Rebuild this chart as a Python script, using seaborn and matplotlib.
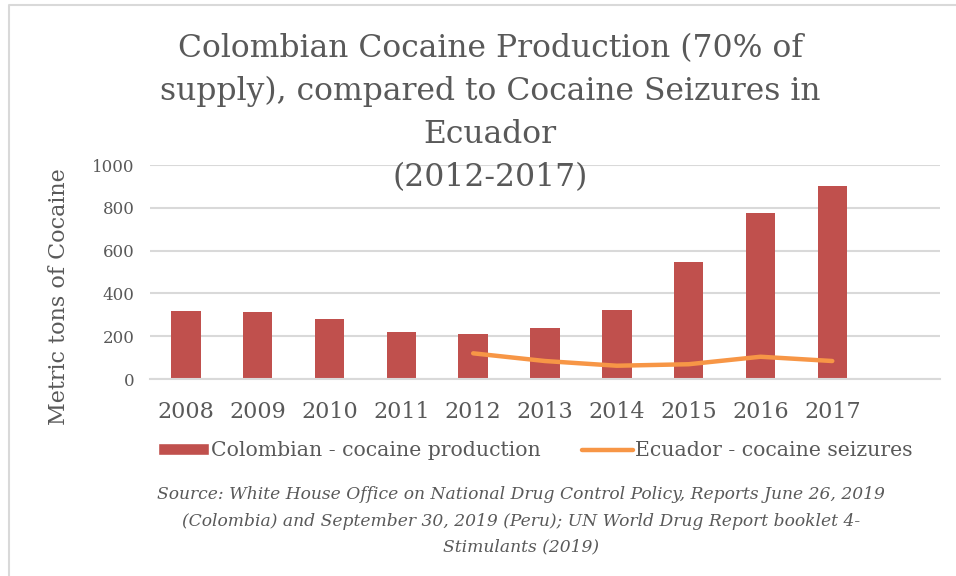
import numpy as np
import pandas as pd
import matplotlib
matplotlib.use('Agg')
import matplotlib.pyplot as plt
import seaborn as sns
from matplotlib.patches import Patch
from matplotlib.lines import Line2D

# data
years = [2008, 2009, 2010, 2011, 2012, 2013, 2014, 2015, 2016, 2017]
colombia_production = [318, 314, 279, 220, 210, 238, 322, 547, 776, 902]
seizure_years = [2012, 2013, 2014, 2015, 2016, 2017]
ecuador_seizures = [120, 84, 62, 69, 104, 84]

bar_color = '#C0504D'
line_color = '#F79646'
text_gray = '#595959'
grid_gray = '#D9D9D9'

sns.set_style('white')
plt.rcParams['font.family'] = ['DejaVu Serif']

prod = pd.DataFrame({'year': [str(y) for y in years], 'tons': colombia_production})
seiz = pd.DataFrame({'pos': [years.index(y) for y in seizure_years], 'tons': ecuador_seizures})

fig = plt.figure(figsize=(9.56, 5.76), dpi=100)
W, H = 956, 576
ax = fig.add_axes([150 / W, 1 - 379 / H, (940 - 150) / W, (379 - 165) / H])

sns.barplot(data=prod, x='year', y='tons', color=bar_color, width=0.41,
            saturation=1, linewidth=0, ax=ax, zorder=2)
sns.lineplot(data=seiz, x='pos', y='tons', color=line_color, lw=3.2,
             solid_capstyle='round', ax=ax, zorder=3)

ax.set_xlim(-0.5, 10.5)
ax.set_ylim(0, 1000)
ax.set_yticks(range(0, 1001, 200))
ax.grid(axis='y', color=grid_gray, lw=1.5, zorder=0)
ax.set_axisbelow(True)
for s in ['top', 'right', 'left']:
    ax.spines[s].set_visible(False)
ax.spines['bottom'].set_color(grid_gray)
ax.spines['bottom'].set_linewidth(1.5)
ax.tick_params(axis='both', length=0, colors=text_gray)
ax.tick_params(axis='x', labelsize=16, pad=16)
ax.tick_params(axis='y', labelsize=12, pad=11)
ax.set_xlabel('')
ax.set_ylabel('Metric tons of Cocaine', fontsize=16, color=text_gray)
ax.yaxis.set_label_coords(-0.101, 0.383)

fig.text(490 / W, 1 - 33 / H,
         'Colombian Cocaine Production (70% of\nsupply), compared to Cocaine Seizures in\nEcuador\n(2012-2017)',
         ha='center', va='top', fontsize=22.6, color=text_gray, linespacing=1.5)

handles = [Patch(facecolor=bar_color, label='Colombian - cocaine production'),
           Line2D([], [], color=line_color, lw=3.2, solid_capstyle='round',
                  label='Ecuador - cocaine seizures')]
fig.legend(handles=handles, loc='center', bbox_to_anchor=(535 / W, 1 - 451 / H),
           ncol=2, frameon=False, fontsize=14.7, labelcolor=text_gray,
           handlelength=2.5, handleheight=0.5, handletextpad=0.1, columnspacing=2.0)

fig.text(521 / W, 1 - 521 / H,
         'Source: White House Office on National Drug Control Policy, Reports June 26, 2019\n'
         '(Colombia) and September 30, 2019 (Peru); UN World Drug Report booklet 4-\n'
         'Stimulants (2019)',
         ha='center', va='center', fontsize=12.3, style='italic', color=text_gray,
         linespacing=1.7)

# chart-area frame, only top and left edges visible
fig.add_artist(Line2D([8.5 / W, 8.5 / W, 1], [0, 1 - 4.5 / H, 1 - 4.5 / H],
                      transform=fig.transFigure, color=grid_gray, lw=1.5))

fig.savefig('out.png', dpi=100)
